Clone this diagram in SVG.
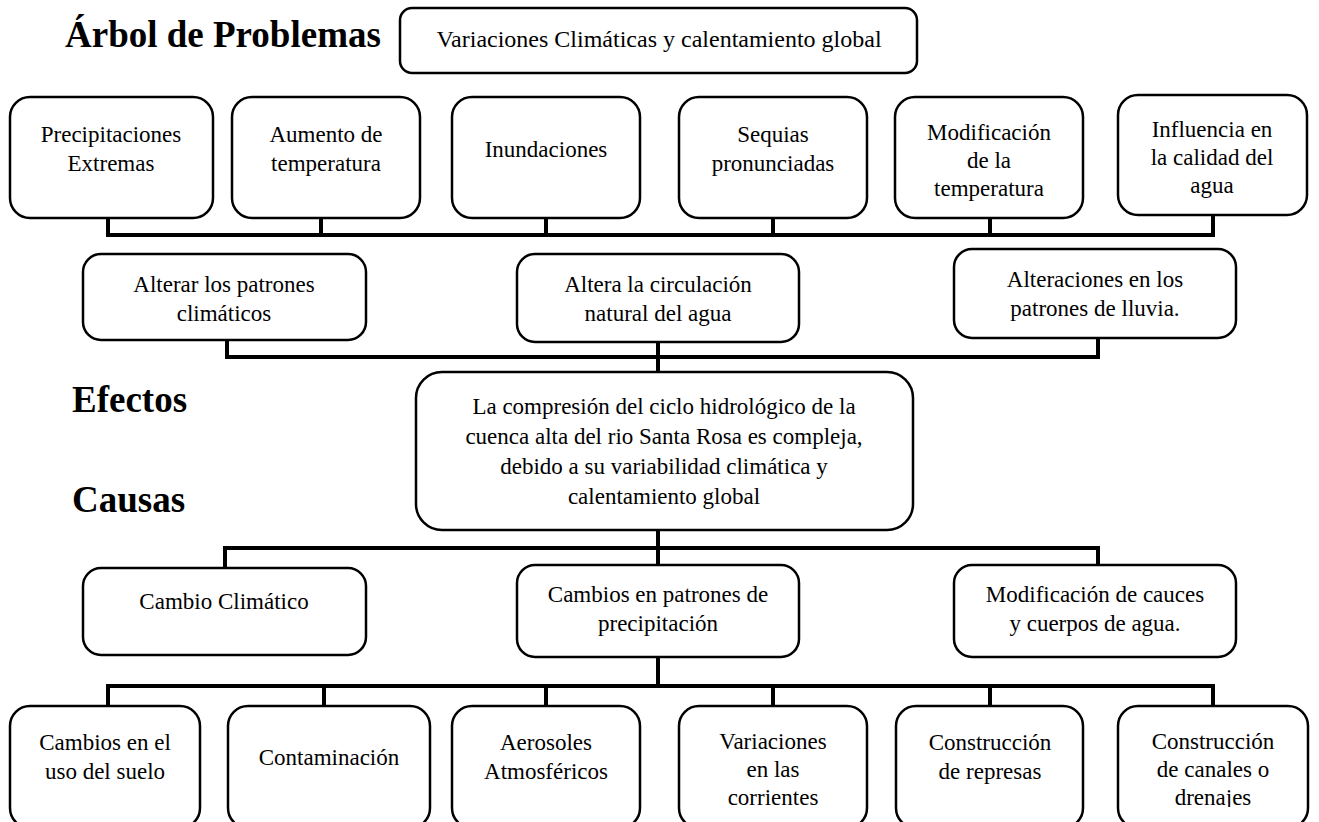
<svg xmlns="http://www.w3.org/2000/svg" width="1319" height="822" viewBox="0 0 1319 822">
<defs>
<style>
.bx{fill:#fff;stroke:#000;stroke-width:2.5}
.t{font-family:"Liberation Serif","Times New Roman",serif;font-size:23px;fill:#000;text-anchor:middle}
.h{font-family:"Liberation Serif","Times New Roman",serif;font-size:37px;font-weight:bold;fill:#000}
.c{fill:none;stroke:#000;stroke-width:4;stroke-linejoin:miter;stroke-linecap:square}
</style>
<clipPath id="clipBottom"><rect x="0" y="0" width="1319" height="807"/></clipPath>
</defs>
<rect width="1319" height="822" fill="#fff"/>

<g id="labels">
<text class="h" x="65" y="47">Árbol de Problemas</text>
<text class="h" x="72" y="412">Efectos</text>
<text class="h" x="72" y="512">Causas</text>
</g>

<g id="connectors">
<path class="c" d="M108,218 V235 H1213 V215 M321,218 V235 M546,218 V235 M773,218 V235 M990,218 V235"/>
<path class="c" d="M227,340 V357 H1098 V338 M658,342 V372"/>
<path class="c" d="M658,530 V565 M225,568 V548 H1098 V565"/>
<path class="c" d="M658,657 V686 M108,706 V686 H1213 V706 M324,686 V706 M546,686 V706 M773,686 V706 M990,686 V706"/>
</g>

<g id="n-title">
<rect class="bx" x="400" y="8" width="517" height="65" rx="12"/>
<text class="t" x="659" y="47" style="font-size:24px">Variaciones Climáticas y calentamiento global</text>
</g>

<g id="n-precipitaciones">
<rect class="bx" x="10" y="97" width="203" height="121" rx="20"/>
<text class="t" x="111" y="142">Precipitaciones</text>
<text class="t" x="111" y="171">Extremas</text>
</g>
<g id="n-aumento">
<rect class="bx" x="232" y="97" width="188" height="121" rx="20"/>
<text class="t" x="326" y="142">Aumento de</text>
<text class="t" x="326" y="171">temperatura</text>
</g>
<g id="n-inundaciones">
<rect class="bx" x="452" y="97" width="188" height="121" rx="20"/>
<text class="t" x="546" y="157">Inundaciones</text>
</g>
<g id="n-sequias">
<rect class="bx" x="679" y="97" width="188" height="121" rx="20"/>
<text class="t" x="773" y="142">Sequias</text>
<text class="t" x="773" y="171">pronunciadas</text>
</g>
<g id="n-modtemp">
<rect class="bx" x="895" y="97" width="188" height="121" rx="20"/>
<text class="t" x="989" y="140">Modificación</text>
<text class="t" x="989" y="168">de la</text>
<text class="t" x="989" y="196">temperatura</text>
</g>
<g id="n-influencia">
<rect class="bx" x="1118" y="95" width="189" height="120" rx="20"/>
<text class="t" x="1212" y="137">Influencia en</text>
<text class="t" x="1212" y="165">la calidad del</text>
<text class="t" x="1212" y="193">agua</text>
</g>

<g id="n-alterar">
<rect class="bx" x="83" y="254" width="283" height="86" rx="18"/>
<text class="t" x="224" y="292">Alterar los patrones</text>
<text class="t" x="224" y="321">climáticos</text>
</g>
<g id="n-altera">
<rect class="bx" x="517" y="254" width="282" height="88" rx="18"/>
<text class="t" x="658" y="292">Altera la circulación</text>
<text class="t" x="658" y="321">natural del agua</text>
</g>
<g id="n-alteraciones">
<rect class="bx" x="954" y="249" width="282" height="89" rx="18"/>
<text class="t" x="1095" y="287">Alteraciones en los</text>
<text class="t" x="1095" y="316">patrones de lluvia.</text>
</g>

<g id="n-central">
<rect class="bx" x="416" y="372" width="497" height="158" rx="26"/>
<text class="t" x="664" y="414">La compresión del ciclo hidrológico de la</text>
<text class="t" x="664" y="444">cuenca alta del rio Santa Rosa es compleja,</text>
<text class="t" x="664" y="474">debido a su variabilidad climática y</text>
<text class="t" x="664" y="504">calentamiento global</text>
</g>

<g id="n-cambioclim">
<rect class="bx" x="83" y="568" width="283" height="87" rx="18"/>
<text class="t" x="224" y="609">Cambio Climático</text>
</g>
<g id="n-cambiospatrones">
<rect class="bx" x="517" y="565" width="282" height="92" rx="18"/>
<text class="t" x="658" y="602">Cambios en patrones de</text>
<text class="t" x="658" y="631">precipitación</text>
</g>
<g id="n-modcauces">
<rect class="bx" x="954" y="565" width="282" height="92" rx="18"/>
<text class="t" x="1095" y="602">Modificación de cauces</text>
<text class="t" x="1095" y="631">y cuerpos de agua.</text>
</g>

<g id="n-suelo">
<rect class="bx" x="10" y="706" width="190" height="122" rx="20"/>
<text class="t" x="105" y="750">Cambios en el</text>
<text class="t" x="105" y="779">uso del suelo</text>
</g>
<g id="n-contaminacion">
<rect class="bx" x="228" y="706" width="202" height="122" rx="20"/>
<text class="t" x="329" y="765">Contaminación</text>
</g>
<g id="n-aerosoles">
<rect class="bx" x="452" y="706" width="188" height="122" rx="20"/>
<text class="t" x="546" y="750">Aerosoles</text>
<text class="t" x="546" y="779">Atmosféricos</text>
</g>
<g id="n-corrientes">
<rect class="bx" x="679" y="706" width="188" height="122" rx="20"/>
<text class="t" x="773" y="749">Variaciones</text>
<text class="t" x="773" y="777">en las</text>
<text class="t" x="773" y="805">corrientes</text>
</g>
<g id="n-represas">
<rect class="bx" x="896" y="706" width="187" height="122" rx="20"/>
<text class="t" x="990" y="750">Construcción</text>
<text class="t" x="990" y="779">de represas</text>
</g>
<g id="n-canales">
<rect class="bx" x="1118" y="706" width="190" height="122" rx="20"/>
<text class="t" x="1213" y="749">Construcción</text>
<text class="t" x="1213" y="777">de canales o</text>
<text class="t" x="1213" y="805" clip-path="url(#clipBottom)">drenajes</text>
</g>
</svg>
